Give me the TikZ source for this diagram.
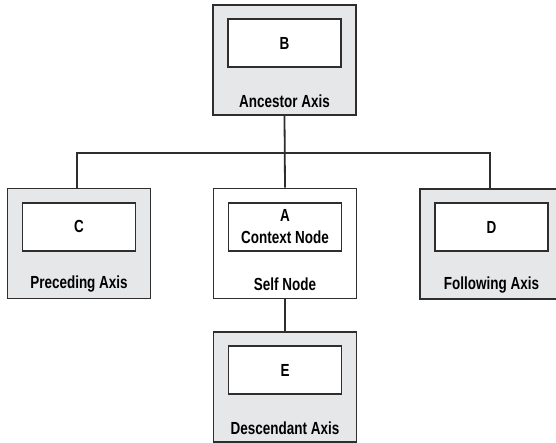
\documentclass[tikz,border=0pt]{standalone}
\usepackage{fontspec}
\setmainfont{Liberation Sans}[FakeStretch=0.77]
\begin{document}
\begin{tikzpicture}[x=1pt,y=-1pt,
  line/.style={draw=lineclr,line width=1.8pt},
  axisbox/.style={line,fill=axisfill,minimum width=143pt,minimum height=110pt,inner sep=0pt},
  selfbox/.style={axisbox,fill=white},
  itembox/.style={line,fill=white,minimum width=113pt,minimum height=48pt,inner sep=0pt,align=center,font=\fontsize{17.5}{22}\selectfont\bfseries},
  caption/.style={inner sep=0pt,font=\fontsize{17.5}{20}\selectfont\bfseries}]
\definecolor{lineclr}{HTML}{2E2E2E}
\definecolor{axisfill}{HTML}{E6E7E8}
\useasboundingbox (0,0) rectangle (556,442);
\clip (0,0) rectangle (556,442);
\fill[white] (0,0) rectangle (556,442);

% horizontal bar carrying the sibling axes
\coordinate (bar) at (0,153);

% outer axis frames
\node[axisbox] (Bax) at (284.5,60) {};
\node[axisbox] (Cax) at (79,243.5) {};
\node[selfbox] (Aax) at (285,243.5) {};
\node[axisbox] (Dax) at (491.5,244) {};
\node[axisbox] (Eax) at (285,387) {};

% inner node boxes
\node[itembox] (B) at ([yshift=-39pt]Bax.north) {B};
\node[itembox] (C) at ([yshift=-39pt]Cax.north) {C};
\node[itembox] (A) at ([yshift=-39pt]Aax.north) {A\\Context Node};
\node[itembox] (D) at ([yshift=-39pt]Dax.north) {D};
\node[itembox] (E) at ([yshift=-39pt]Eax.north) {E};

% axis captions
\node[caption] (Bl) at ([yshift=15pt]Bax.south) {Ancestor Axis};
\node[caption] (Cl) at ([yshift=15pt]Cax.south) {Preceding Axis};
\node[caption] (Al) at ([yshift=15pt]Aax.south) {Self Node};
\node[caption] (Dl) at ([yshift=15pt]Dax.south) {Following Axis};
\node[caption] (El) at ([yshift=15pt]Eax.south) {Descendant Axis};

% connectors
\draw[line] (Bax.south) -- (Aax.north);
\draw[line] ([xshift=-2pt]Cax.north) -- ([xshift=-2pt]Cax.north |- bar) -- ([xshift=-1.5pt]Dax.north |- bar) -- ([xshift=-1.5pt]Dax.north);
\draw[line] (Aax.south) -- (Eax.north);
\end{tikzpicture}
\end{document}
